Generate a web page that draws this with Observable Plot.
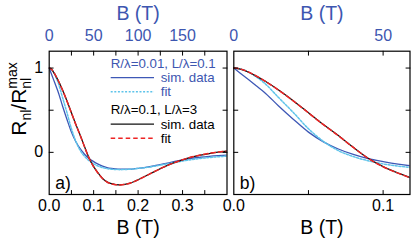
<!DOCTYPE html>
<html>
<head>
<meta charset="utf-8">
<script src="https://cdn.jsdelivr.net/npm/d3@7"></script>
<script src="https://cdn.jsdelivr.net/npm/@observablehq/plot@0.6"></script>
<style>
html,body{margin:0;padding:0;background:#fff;}
#chart{position:relative;width:415px;height:244px;overflow:hidden;background:#fff;}
#chart svg{position:absolute;top:0;}
</style>
</head>
<body>
<div id="chart"></div>
<script>
// ---------- data ----------
const B = [0, 0.005, 0.01, 0.015, 0.02, 0.03, 0.04, 0.05, 0.06, 0.07, 0.08, 0.09, 0.10, 0.11, 0.12, 0.13, 0.14, 0.15, 0.16, 0.17, 0.18, 0.19, 0.20, 0.22, 0.24, 0.26, 0.28, 0.30, 0.32, 0.34, 0.36, 0.38, 0.40];
// R/λ=0.01, L/λ=0.1
const simSmall = [1.0, 0.93, 0.86, 0.79, 0.72, 0.55, 0.39, 0.24, 0.125, 0.04, -0.025, -0.075, -0.11, -0.14, -0.163, -0.18, -0.19, -0.196, -0.199, -0.2, -0.199, -0.196, -0.19, -0.175, -0.156, -0.134, -0.111, -0.09, -0.072, -0.058, -0.047, -0.039, -0.033];
const fitSmall = [1.0, 0.985, 0.95, 0.895, 0.83, 0.65, 0.47, 0.28, 0.13, 0.02, -0.05, -0.1, -0.137, -0.163, -0.181, -0.193, -0.2, -0.204, -0.205, -0.204, -0.201, -0.197, -0.191, -0.178, -0.161, -0.142, -0.122, -0.103, -0.086, -0.072, -0.061, -0.052, -0.045];
// R/λ=0.1, L/λ=3
const simLarge = [1.0, 0.985, 0.95, 0.905, 0.855, 0.74, 0.61, 0.47, 0.33, 0.2, 0.06, -0.07, -0.17, -0.245, -0.31, -0.35, -0.372, -0.383, -0.385, -0.38, -0.368, -0.349, -0.325, -0.272, -0.219, -0.169, -0.126, -0.089, -0.058, -0.033, -0.014, 0.002, 0.013];
const fitLarge = [1.0, 0.987, 0.952, 0.906, 0.855, 0.738, 0.608, 0.468, 0.328, 0.198, 0.058, -0.071, -0.171, -0.247, -0.311, -0.352, -0.374, -0.385, -0.386, -0.381, -0.369, -0.35, -0.326, -0.273, -0.22, -0.17, -0.126, -0.088, -0.056, -0.031, -0.012, 0.004, 0.016];

const legendTitles = ["R/λ=0.01, L/λ=0.1", "R/λ=0.1, L/λ=3"];
const legendItems = ["sim. data", "fit"];

const xDomainA = [0, 0.4], topDomainA = [0, 200];
const xDomainB = [0, 0.118], topDomainB = [0, 59];
const yDomain = [-0.5, 1.2];

const bottomLabelsA = [0, 0.1, 0.2, 0.3];
const bottomTicksA = [0.05, 0.1, 0.15, 0.2, 0.25, 0.3, 0.35];
const topLabelsA = [0, 50, 100, 150];
const topTicksA = [25, 50, 75, 100, 125, 150, 175];
const bottomLabelsB = [0, 0.1];
const bottomTicksB = [0.05, 0.1];
const topLabelsB = [0, 50];
const topTicksB = [25, 50];
const yLabels = [0, 1];
const yTicks = [0, 0.5, 1];

const xTitle = "B (T)";
const panelNames = ["a)", "b)"];

// ---------- styling ----------
const BLUE_TEXT = "#3d56b0";
const styles = [
  {vals: simSmall, stroke: "#3e58b6", dash: null, w: 1.3},
  {vals: fitSmall, stroke: "#5ec4ea", dash: "2,1.6", w: 1.5},
  {vals: simLarge, stroke: "#111111", dash: null, w: 1.3},
  {vals: fitLarge, stroke: "#ee2424", dash: "4.5,3", w: 1.5}
];
const FONT = "'Liberation Sans', Arial, Helvetica, sans-serif";
const H = 244, MT = 50.7, MB = 50;

const tickShape = {draw(ctx, l) { ctx.moveTo(0, 0); ctx.lineTo(0, -l); }};
const tX = (vals, anchor) => Plot.vectorX(vals, {x: d => d, frameAnchor: anchor, length: 4, rotate: anchor === "bottom" ? 0 : 180, anchor: "start", shape: tickShape, stroke: "black", strokeWidth: 1});
const tY = (vals, anchor) => Plot.vectorY(vals, {y: d => d, frameAnchor: anchor, length: 4, rotate: anchor === "left" ? 90 : -90, anchor: "start", shape: tickShape, stroke: "black", strokeWidth: 1});

function curves() {
  return styles.map(s => Plot.line(B.map((b, i) => ({B: b, v: s.vals[i]})), {
    x: "B", y: "v", stroke: s.stroke, strokeWidth: s.w, strokeDasharray: s.dash, curve: "monotone-x", clip: true
  }));
}

function panel(cfg) {
  const main = Plot.plot({
    width: cfg.width, height: H,
    marginLeft: cfg.ml, marginRight: cfg.mr, marginTop: MT, marginBottom: MB,
    x: {domain: cfg.xDomain, axis: null},
    y: {domain: yDomain, axis: null},
    style: {background: "transparent", overflow: "visible", fontFamily: FONT, color: "black"},
    marks: [
      ...curves(),
      Plot.frame({stroke: "black", strokeWidth: 1.2}),
      tX(cfg.bottomTicks, "bottom"),
      tY(yTicks, "left"),
      tY(yTicks, "right"),
      Plot.axisX({anchor: "bottom", ticks: cfg.bottomLabels, tickSize: 0, tickPadding: 5, tickFormat: d3.format(".1f"), fontSize: 16, label: null}),
      cfg.yAxis ? Plot.axisY({anchor: "left", ticks: yLabels, tickSize: 0, tickPadding: 6, tickFormat: d3.format("d"), fontSize: 16, label: null}) : null,
      Plot.text([xTitle], {text: d => d, frameAnchor: "bottom", dy: 39, lineAnchor: "bottom", fontSize: 19.5, fill: "black"}),
      Plot.text([cfg.name], {text: d => d, frameAnchor: "bottom-left", dx: cfg.nameDx, dy: -6, lineAnchor: "bottom", textAnchor: "start", fontSize: 17.5, fill: "black"})
    ]
  });
  const top = Plot.plot({
    width: cfg.width, height: H,
    marginLeft: cfg.ml, marginRight: cfg.mr, marginTop: MT, marginBottom: MB,
    x: {domain: cfg.topDomain, axis: null},
    style: {background: "transparent", overflow: "visible", fontFamily: FONT, color: BLUE_TEXT},
    marks: [
      tX(cfg.topTicks, "top"),
      Plot.axisX({anchor: "top", ticks: cfg.topLabels, tickSize: 0, tickPadding: 10, tickFormat: d3.format("d"), fontSize: 16, label: null}),
      Plot.text([xTitle], {text: d => d, frameAnchor: "top", dy: -31, lineAnchor: "bottom", fontSize: 19.5, fill: BLUE_TEXT})
    ]
  });
  for (const s of [main, top]) {
    s.style.left = cfg.left + "px";
    document.getElementById("chart").appendChild(s);
  }
  return main;
}

const svgA = panel({left: 0, width: 230, ml: 48.7, mr: 3.5, xDomain: xDomainA, topDomain: topDomainA,
  bottomLabels: bottomLabelsA, bottomTicks: bottomTicksA, topLabels: topLabelsA, topTicks: topTicksA, yAxis: true, name: panelNames[0], nameDx: 6});
panel({left: 230, width: 185, ml: 3.3, mr: 5.5, xDomain: xDomainB, topDomain: topDomainB,
  bottomLabels: bottomLabelsB, bottomTicks: bottomTicksB, topLabels: topLabelsB, topTicks: topTicksB, yAxis: false, name: panelNames[1], nameDx: 6});

// ---------- y-axis title with sub/superscripts ----------
const yt = d3.select(svgA).append("text")
  .attr("transform", "translate(26,99) rotate(-90)")
  .attr("text-anchor", "middle")
  .attr("fill", "black")
  .style("font-family", FONT)
  .style("font-size", "21px");
yt.append("tspan").text("R");
yt.append("tspan").attr("dy", 5).style("font-size", "14px").text("nl");
yt.append("tspan").attr("dy", -5).text("/R");
yt.append("tspan").attr("dy", 5).style("font-size", "14px").text("nl");
yt.append("tspan").attr("dx", -10.9).attr("dy", -14).style("font-size", "14px").text("max");

// ---------- legend ----------
const lg = d3.select(svgA).append("g")
  .attr("text-anchor", "start")
  .style("font-family", FONT).style("font-size", "13.3px");
const legendColors = [BLUE_TEXT, "black"];
const rowBase = [67.8, 114.3];
legendTitles.forEach((t, gi) => {
  const y0 = rowBase[gi];
  lg.append("text").attr("x", 110.7).attr("y", y0).attr("text-anchor", "start").attr("fill", legendColors[gi]).text(t);
  legendItems.forEach((it, ii) => {
    const s = styles[gi * 2 + ii];
    const yl = y0 + 9.8 + ii * 14.2;
    lg.append("line").attr("x1", 110.7).attr("x2", 154).attr("y1", yl).attr("y2", yl)
      .attr("stroke", s.stroke).attr("stroke-width", s.w).attr("stroke-dasharray", s.dash);
    lg.append("text").attr("x", 160.7).attr("y", yl + 4.4).attr("text-anchor", "start").attr("fill", legendColors[gi]).text(it);
  });
});
</script>
</body>
</html>
